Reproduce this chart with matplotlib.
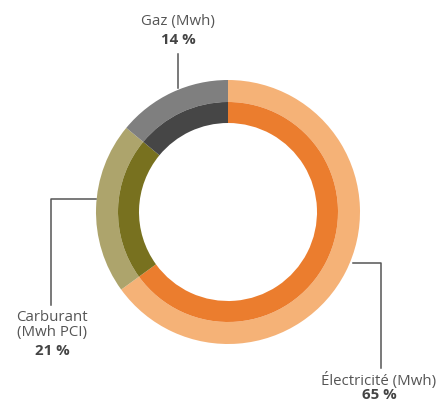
import matplotlib
matplotlib.use("Agg")
import matplotlib.pyplot as plt

categories = ["Électricité (Mwh)", "Carburant\n(Mwh PCI)", "Gaz (Mwh)"]
values = [65, 21, 14]
pct_labels = ["65 %", "21 %", "14 %"]
outer_colors = ["#F5B277", "#ADA46C", "#7F7F7F"]
inner_colors = ["#EB7D2E", "#78711F", "#464646"]

W, H = 440, 404
fig = plt.figure(figsize=(W / 100, H / 100), dpi=100)
ax = fig.add_axes([0, 0, 1, 1])

def py(y):
    return H - y

cx, cy = 228, py(212)
ax.pie(values, colors=outer_colors, startangle=90, counterclock=False,
       radius=132, center=(cx, cy), frame=True,
       wedgeprops=dict(width=22, linewidth=0))
ax.pie(values, colors=inner_colors, startangle=90, counterclock=False,
       radius=110, center=(cx, cy), frame=True,
       wedgeprops=dict(width=21, linewidth=0))
ax.set_xlim(0, W)
ax.set_ylim(0, H)
ax.set_aspect("equal")
ax.axis("off")

lc = "#555555"
fam = ["Open Sans", "DejaVu Sans"]
fs = 10.8
tc = "#555555"
bc = "#444444"

# Gaz
ax.plot([178, 178], [py(54), py(88)], color=lc, lw=1.1)
ax.text(178, py(22), categories[2], ha="center", va="center", fontsize=fs, color=tc, family=fam)
ax.text(178, py(40), pct_labels[2], ha="center", va="center", fontsize=fs, color=bc, family=fam, fontweight="bold")

# Carburant
ax.plot([96, 51, 51], [py(199), py(199), py(305)], color=lc, lw=1.1)
ax.text(52, py(325), categories[1], ha="center", va="center", fontsize=fs, color=tc, family=fam, linespacing=1.05)
ax.text(52, py(351), pct_labels[1], ha="center", va="center", fontsize=fs, color=bc, family=fam, fontweight="bold")

# Électricité
ax.plot([353, 381, 381], [py(263), py(263), py(368)], color=lc, lw=1.1)
ax.text(379, py(380), categories[0], ha="center", va="center", fontsize=fs, color=tc, family=fam)
ax.text(379, py(395), pct_labels[0], ha="center", va="center", fontsize=fs, color=bc, family=fam, fontweight="bold")

fig.savefig("out.png", dpi=100)
